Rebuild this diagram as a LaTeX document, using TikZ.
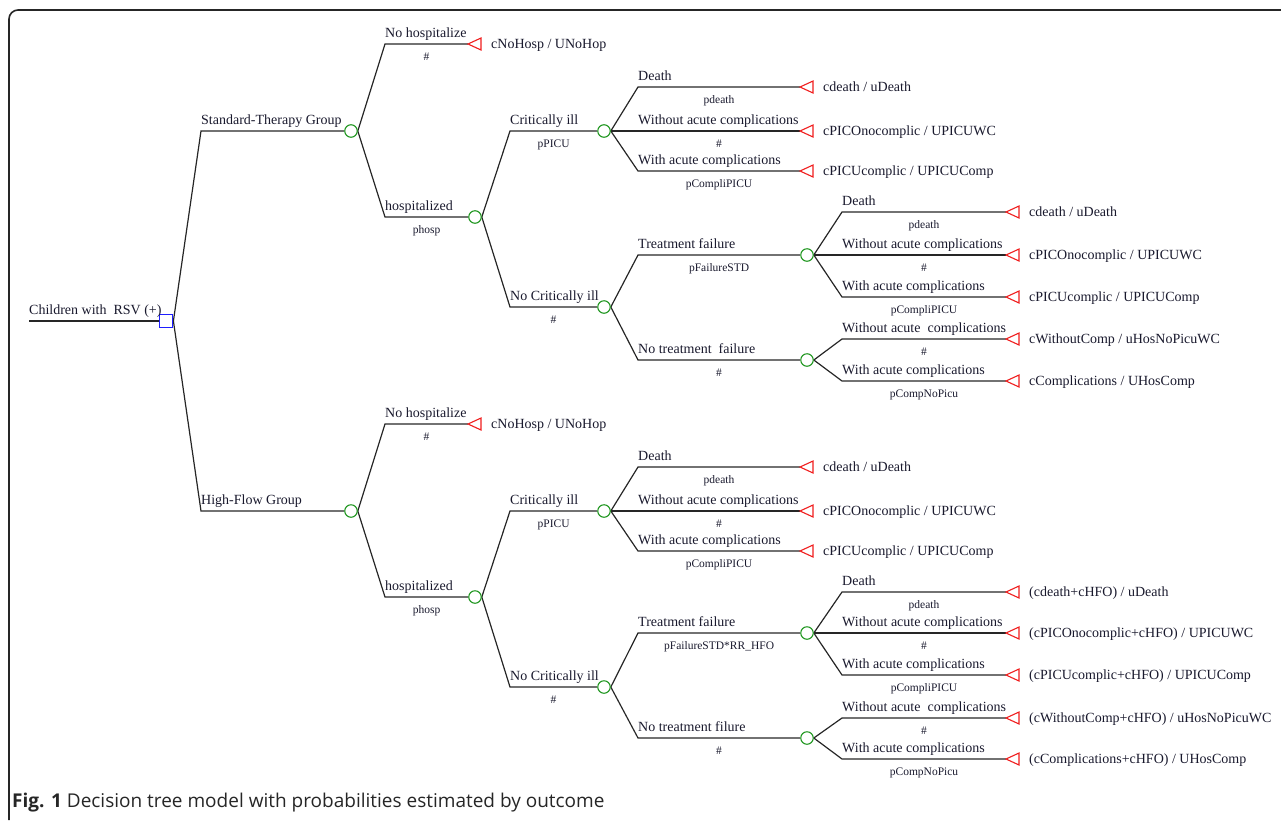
\documentclass[tikz,border=0pt]{standalone}
\usepackage{fontspec}
\setmainfont{Liberation Serif}
\newfontfamily\capfont{Open Sans}
\usetikzlibrary{calc}
\pgfdeclarelayer{bg}
\pgfsetlayers{bg,main}
\definecolor{txt}{RGB}{25,25,45}
\definecolor{grn}{RGB}{30,150,30}
\definecolor{blu}{RGB}{30,30,255}
\definecolor{rd}{RGB}{240,30,30}
\tikzset{
  edge/.style={line width=1.2pt, draw=black!85},
  chance/.style={circle, draw=grn, line width=1.1pt, minimum size=12.5pt, inner sep=0pt, fill=white},
  decision/.style={rectangle, draw=blu, line width=1.3pt, minimum size=13.5pt, inner sep=0pt, fill=white},
  tipnode/.style={inner sep=0pt, outer sep=0pt, minimum size=0pt},
  termtri/.style={draw=rd, line width=1.1pt, line join=miter, fill=white},
  toplab/.style={anchor=base west, inner sep=0pt, text=txt, font=\fontsize{14}{16}\selectfont},
  botlab/.style={anchor=base, inner sep=0pt, text=txt, font=\fontsize{11.5}{13}\selectfont},
  outlab/.style={anchor=base west, inner sep=0pt, text=txt, font=\fontsize{14}{16}\selectfont},
}
\newcommand{\Ch}[3]{\node[chance] (#1) at (#2,#3) {};}
\newcommand{\Term}[4]{%
  \node[tipnode] (#1) at (#2,#3) {};
  \draw[termtri] (#1.center) -- ++(13,-6) -- ++(0,12) -- cycle;
  \node[outlab] (#1-t) at (#2+23,#3+4.5) {#4};}
\newcommand{\Br}[6]{%
  \coordinate (#2-c) at (#3,#4);
  \begin{pgfonlayer}{bg}
  \draw[edge] (#1.east) -- (#2-c) -- (#2.west);
  \end{pgfonlayer}
  \node[toplab] (#2-a) at ([yshift=7pt]#2-c) {#5};
  \node[botlab] (#2-b) at ($(#2-c)!0.5!(#2.west)+(0,16)$) {#6};}
\begin{document}
\begin{tikzpicture}[x=1pt,y=-1pt]
\useasboundingbox (0,0) rectangle (1281,820);
\draw[line width=1.6pt, rounded corners=9pt, black!85] (9,820) -- (9,10) -- (1281,10);

% root
\coordinate (start) at (29,321);
\node[decision] (D) at (166,321) {};
\begin{pgfonlayer}{bg}
\draw[edge] (start) -- (D.west);
\end{pgfonlayer}
\node[toplab] (D-a) at (29,314) {Children with\ \ RSV (+)};

% ---------------- top half ----------------
\Ch{S}{351}{131}
\Br{D}{S}{201}{131}{Standard-Therapy Group}{}
\Term{S1}{468}{44}{cNoHosp / UNoHop}
\Br{S}{S1}{385}{44}{No hospitalize}{\#}
\Ch{SH}{475}{217}
\Br{S}{SH}{385}{217}{hospitalized}{phosp}

\Ch{SC}{604}{131}
\Br{SH}{SC}{510}{131}{Critically ill}{pPICU}
\Ch{SN}{604}{307}
\Br{SH}{SN}{510}{307}{No Critically ill}{\#}

\Term{SC1}{800}{87}{cdeath / uDeath}
\Br{SC}{SC1}{638}{87}{Death}{pdeath}
\Term{SC2}{800}{131}{cPICOnocomplic / UPICUWC}
\Br{SC}{SC2}{638}{131}{Without acute complications}{\#}
\Term{SC3}{800}{171}{cPICUcomplic / UPICUComp}
\Br{SC}{SC3}{638}{171}{With acute complications}{pCompliPICU}

\Ch{SF}{807}{255}
\Br{SN}{SF}{638}{255}{Treatment failure}{pFailureSTD}
\Ch{SNF}{807}{360}
\Br{SN}{SNF}{638}{360}{No treatment\ \ failure}{\#}

\Term{SF1}{1006}{212}{cdeath / uDeath}
\Br{SF}{SF1}{842}{212}{Death}{pdeath}
\Term{SF2}{1006}{255}{cPICOnocomplic / UPICUWC}
\Br{SF}{SF2}{842}{255}{Without acute complications}{\#}
\Term{SF3}{1006}{297}{cPICUcomplic / UPICUComp}
\Br{SF}{SF3}{842}{297}{With acute complications}{pCompliPICU}

\Term{SNF1}{1006}{339}{cWithoutComp / uHosNoPicuWC}
\Br{SNF}{SNF1}{842}{339}{Without acute\ \ complications}{\#}
\Term{SNF2}{1006}{381}{cComplications / UHosComp}
\Br{SNF}{SNF2}{842}{381}{With acute complications}{pCompNoPicu}

% ---------------- bottom half ----------------
\Ch{H}{351}{511}
\Br{D}{H}{201}{511}{High-Flow Group}{}
\Term{H1}{468}{424}{cNoHosp / UNoHop}
\Br{H}{H1}{385}{424}{No hospitalize}{\#}
\Ch{HH}{475}{597}
\Br{H}{HH}{385}{597}{hospitalized}{phosp}

\Ch{HC}{604}{511}
\Br{HH}{HC}{510}{511}{Critically ill}{pPICU}
\Ch{HN}{604}{687}
\Br{HH}{HN}{510}{687}{No Critically ill}{\#}

\Term{HC1}{800}{467}{cdeath / uDeath}
\Br{HC}{HC1}{638}{467}{Death}{pdeath}
\Term{HC2}{800}{511}{cPICOnocomplic / UPICUWC}
\Br{HC}{HC2}{638}{511}{Without acute complications}{\#}
\Term{HC3}{800}{551}{cPICUcomplic / UPICUComp}
\Br{HC}{HC3}{638}{551}{With acute complications}{pCompliPICU}

\Ch{HF}{807}{633}
\Br{HN}{HF}{638}{633}{Treatment failure}{pFailureSTD*RR\_HFO}
\Ch{HNF}{807}{738}
\Br{HN}{HNF}{638}{738}{No treatment filure}{\#}

\Term{HF1}{1006}{592}{(cdeath+cHFO) / uDeath}
\Br{HF}{HF1}{842}{592}{Death}{pdeath}
\Term{HF2}{1006}{633}{(cPICOnocomplic+cHFO) / UPICUWC}
\Br{HF}{HF2}{842}{633}{Without acute complications}{\#}
\Term{HF3}{1006}{675}{(cPICUcomplic+cHFO) / UPICUComp}
\Br{HF}{HF3}{842}{675}{With acute complications}{pCompliPICU}

\Term{HNF1}{1006}{718}{(cWithoutComp+cHFO) / uHosNoPicuWC}
\Br{HNF}{HNF1}{842}{718}{Without acute\ \ complications}{\#}
\Term{HNF2}{1006}{759}{(cComplications+cHFO) / UHosComp}
\Br{HNF}{HNF2}{842}{759}{With acute complications}{pCompNoPicu}

% caption
\node[anchor=base west, inner sep=0pt, text=black!85, font=\capfont\fontsize{19}{22}\selectfont] (cap) at (12,807) {\textbf{Fig. 1} Decision tree model with probabilities estimated by outcome};
\end{tikzpicture}
\end{document}
